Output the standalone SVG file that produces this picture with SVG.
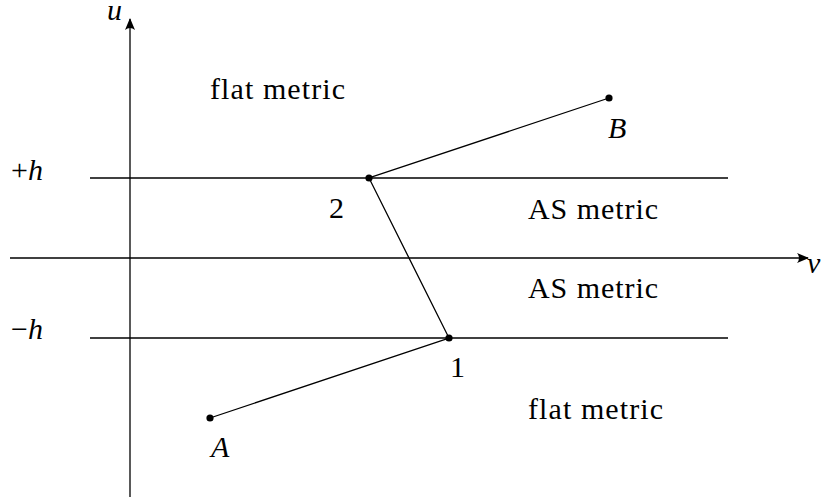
<svg xmlns="http://www.w3.org/2000/svg" width="823" height="500" viewBox="0 0 823 500">
<defs>
<style>
.ln{stroke:#000;stroke-width:1.3;fill:none}
.t{font-family:"Liberation Serif","Times New Roman",serif;font-size:30px;fill:#000}
.i{font-style:italic}
.dot{fill:#000}
</style>
<marker id="arr" viewBox="0 0 12 10" refX="11" refY="5" markerWidth="12" markerHeight="10" markerUnits="userSpaceOnUse" orient="auto">
<path d="M0,0 Q4,5 0,10 L12,5 Z" fill="#000"/>
</marker>
</defs>
<rect width="823" height="500" fill="#fff"/>
<g id="axes">
<line class="ln" x1="130" y1="497" x2="130" y2="19" marker-end="url(#arr)"/>
<line class="ln" x1="10" y1="258" x2="808" y2="258" marker-end="url(#arr)"/>
<line class="ln" x1="90" y1="178" x2="728" y2="178"/>
<line class="ln" x1="90" y1="338" x2="728" y2="338"/>
</g>
<g id="connectors">
<polyline class="ln" points="210,418 449,338 369,178 609,98"/>
</g>
<g id="node-A"><circle class="dot" cx="210" cy="418" r="3.6"/><text class="t i" x="211" y="457">A</text></g>
<g id="node-1"><circle class="dot" cx="449" cy="338" r="3.6"/><text class="t" x="450" y="377">1</text></g>
<g id="node-2"><circle class="dot" cx="369" cy="178" r="3.6"/><text class="t" x="329" y="218">2</text></g>
<g id="node-B"><circle class="dot" cx="609" cy="98" r="3.6"/><text class="t i" x="608" y="138">B</text></g>
<g id="labels">
<text class="t i" x="107" y="20">u</text>
<text class="t i" x="807" y="273">v</text>
<text class="t" x="11" y="180">+<tspan class="i">h</tspan></text>
<text class="t" x="11" y="339">−<tspan class="i">h</tspan></text>
<text class="t" x="210" y="99" textLength="135" lengthAdjust="spacing">flat metric</text>
<text class="t" x="528" y="219" textLength="130" lengthAdjust="spacing">AS metric</text>
<text class="t" x="528" y="298" textLength="130" lengthAdjust="spacing">AS metric</text>
<text class="t" x="528" y="419" textLength="135" lengthAdjust="spacing">flat metric</text>
</g>
</svg>
